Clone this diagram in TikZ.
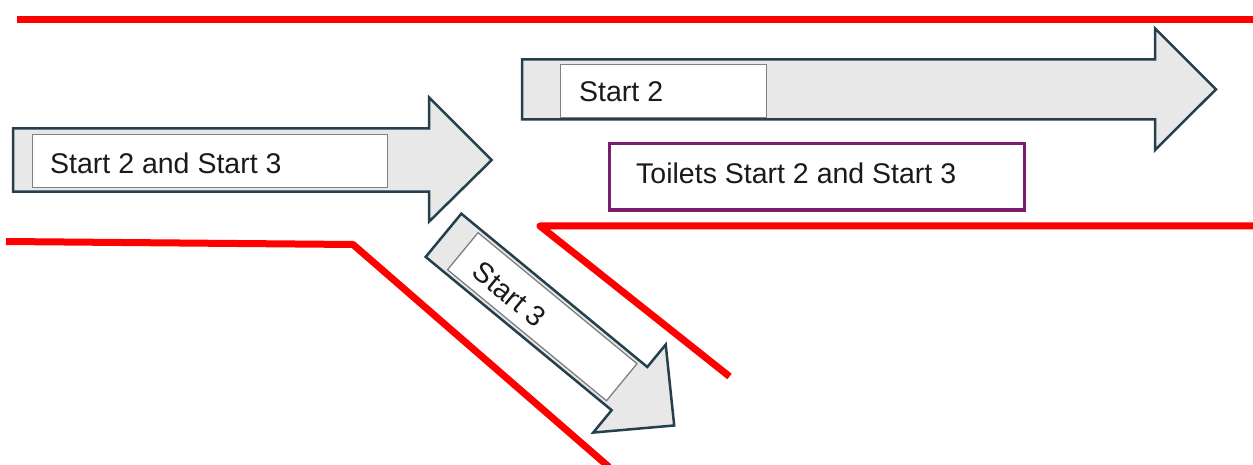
\documentclass[tikz,border=0pt]{standalone}
\usepackage{fontspec}
\setmainfont{Liberation Sans}
\definecolor{arrowline}{HTML}{263F4C}
\definecolor{arrowfill}{HTML}{E8E8E8}
\definecolor{boxline}{HTML}{808080}
\definecolor{toiletline}{HTML}{7A1E6C}
\definecolor{txt}{HTML}{1A1A1A}
\tikzset{
  bigarrow/.style={draw=arrowline, fill=arrowfill, line width=2.5pt, line join=miter},
  tbox/.style={draw=boxline, fill=white, line width=1.3pt, inner sep=0pt, anchor=north west},
  pbox/.style={draw=toiletline, fill=white, line width=3.3pt, inner sep=0pt, anchor=north west},
  lbl/.style={font=\fontsize{28.5}{34}\selectfont, text=txt, inner sep=0pt, anchor=west},
  wall/.style={draw=red, line width=7pt, line join=round}
}
\begin{document}
\begin{tikzpicture}[x=1pt,y=-1pt]
\useasboundingbox (0,0) rectangle (1253,465);
% walls
\coordinate (w1a) at (17,20);
\coordinate (w1b) at (1256,20);
\draw[wall] (w1a) -- (w1b);
\coordinate (w2a) at (6,241.5);
\coordinate (w2b) at (353,244.5);
\coordinate (w2c) at (609,467);
\draw[wall] (w2a) -- (w2b) -- (w2c);
\coordinate (w3a) at (1256,226);
\coordinate (w3b) at (540,226);
\coordinate (w3c) at (729.5,376.5);
\draw[wall] (w3a) -- (w3b) -- (w3c);
% left arrow
\draw[bigarrow] (13,128.3) -- (429,128.3) -- (429,97.3) -- (491.7,160) -- (429,221.7) -- (429,191.7) -- (13,191.7) -- cycle;
\node[tbox, minimum width=355, minimum height=53] (b1) at (32,134) {};
\node[lbl] (t1) at (50,163) {Start 2 and Start 3};
% top right arrow
\draw[bigarrow] (522,59.3) -- (1155,59.3) -- (1155,28.5) -- (1216,89.3) -- (1155,150) -- (1155,119.3) -- (522,119.3) -- cycle;
\node[tbox, minimum width=205.6, minimum height=52.7] (b2) at (560,64) {};
\node[lbl] (t2) at (579,92) {Start 2};
% toilets
\node[pbox, minimum width=415, minimum height=66.3] (b3) at (608,142) {};
\node[lbl] (t3) at (636,173.5) {Toilets Start 2 and Start 3};
% diagonal arrow
\begin{scope}[shift={(443.5,235.3)}, rotate=-39.5]
\draw[bigarrow] (0,-28) -- (241,-28) -- (241,-57) -- (299,0) -- (241,57) -- (241,28) -- (0,28) -- cycle;
\draw[draw=boxline, fill=white, line width=1.3pt] (25,-24) rectangle (231,24);
\node[lbl, rotate=-39.5] (t4) at (46,3.5) {Start 3};
\end{scope}
\end{tikzpicture}
\end{document}
